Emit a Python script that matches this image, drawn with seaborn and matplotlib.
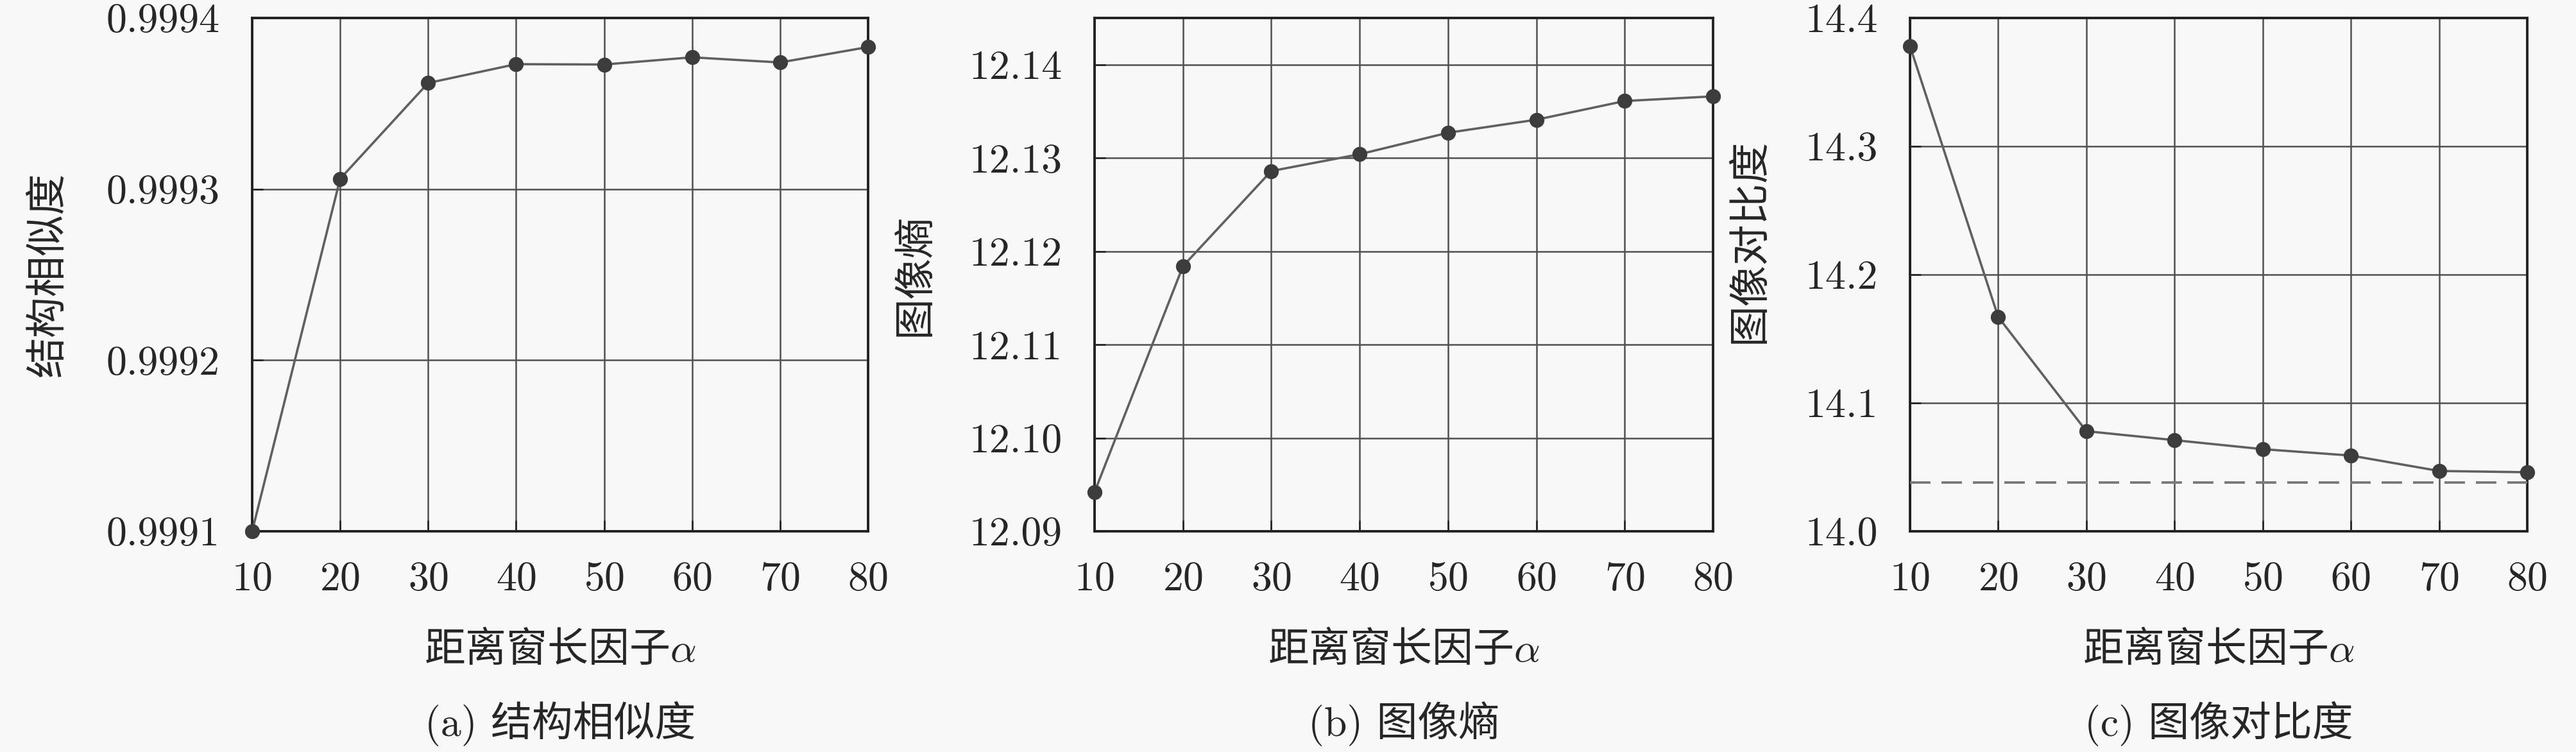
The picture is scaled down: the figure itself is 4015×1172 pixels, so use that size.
import numpy as np
import pandas as pd
import matplotlib
matplotlib.use("Agg")
import matplotlib.pyplot as plt
from matplotlib.ticker import FormatStrFormatter
import seaborn as sns

# 数据
alpha_vals = [10, 20, 30, 40, 50, 60, 70, 80]
ssim_vals = [0.99910, 0.999306, 0.999362, 0.999373, 0.9993728, 0.999377, 0.999374, 0.999383]
entropy_vals = [12.0942, 12.1184, 12.1286, 12.1304, 12.1327, 12.1341, 12.1361, 12.1366]
contrast_vals = [14.378, 14.167, 14.078, 14.071, 14.064, 14.059, 14.047, 14.046]
contrast_ref = 14.038

ssim_ticks = [0.9991, 0.9992, 0.9993, 0.9994]
entropy_ticks = [12.09, 12.10, 12.11, 12.12, 12.13, 12.14]
contrast_ticks = [14.0, 14.1, 14.2, 14.3, 14.4]

sns.set_style("ticks")
bg = "#f8f8f8"
plt.rcParams['font.family'] = ['cmr10', 'Noto Sans CJK SC', 'DejaVu Sans']
plt.rcParams['mathtext.fontset'] = 'cm'
plt.rcParams['axes.unicode_minus'] = False
plt.rcParams['axes.formatter.use_mathtext'] = True

FS = 46
fig = plt.figure(figsize=(40.16, 11.72), dpi=100, facecolor=bg)

panels = [
    dict(left=393, width=960, vals=ssim_vals, ticks=ssim_ticks, ylim=(0.9991, 0.9994),
         fmt='%.4f', ylabel='结构相似度', ylx=-0.330, yly=0.5, cap='(a) 结构相似度'),
    dict(left=1706, width=964, vals=entropy_vals, ticks=entropy_ticks, ylim=(12.09, 12.145),
         fmt='%.2f', ylabel='图像熵', ylx=-0.289, yly=0.5, cap='(b) 图像熵'),
    dict(left=2977, width=962, vals=contrast_vals, ticks=contrast_ticks, ylim=(14.0, 14.4),
         fmt='%.1f', ylabel='图像对比度', ylx=-0.259, yly=0.566, cap='(c) 图像对比度'),
]

W, H = 4016, 1172
top_px, bot_px = 28, 828

for i, p in enumerate(panels):
    ax = fig.add_axes([p['left'] / W, 1 - bot_px / H, p['width'] / W, (bot_px - top_px) / H])
    ax.set_facecolor(bg)
    df = pd.DataFrame({'alpha': alpha_vals, 'v': p['vals']})
    ax.grid(True, color='#505050', lw=1.8)
    ax.set_axisbelow(True)
    sns.lineplot(data=df, x='alpha', y='v', ax=ax, color='#606060', lw=2.6,
                 marker='o', markersize=16, markerfacecolor='#3c3c3c',
                 markeredgecolor='#3c3c3c', zorder=5, clip_on=False)
    if i == 2:
        ax.axhline(contrast_ref, color='#7a7a7a', lw=2.8, ls=(0, (8.2, 4.4)), zorder=4)
    ax.set_xlim(10, 80)
    ax.set_xticks(alpha_vals)
    ax.set_ylim(*p['ylim'])
    ax.set_yticks(p['ticks'])
    ax.yaxis.set_major_formatter(FormatStrFormatter(p['fmt']))
    ax.tick_params(direction='in', length=12, width=1.8, labelsize=FS, color='#222222')
    ax.tick_params(axis='x', pad=34)
    ax.tick_params(axis='y', pad=36)
    for s in ax.spines.values():
        s.set_linewidth(2.8)
        s.set_color('#222222')
    # 中文部分用 Noto，α 用 mathtext (cm)
    ax.set_xlabel(r'距离窗长因子$\alpha$', fontsize=FS, family='Noto Sans CJK SC')
    ax.xaxis.set_label_coords(0.5, -0.231)
    ax.xaxis.label.set_va('center')
    ax.set_ylabel(p['ylabel'], fontsize=FS)
    ax.yaxis.set_label_coords(p['ylx'], p['yly'])
    ax.yaxis.label.set_va('center')
    ax.text(0.5, -0.375, p['cap'], transform=ax.transAxes, ha='center', va='center', fontsize=FS)

fig.savefig('out.png', dpi=100, facecolor=bg)
